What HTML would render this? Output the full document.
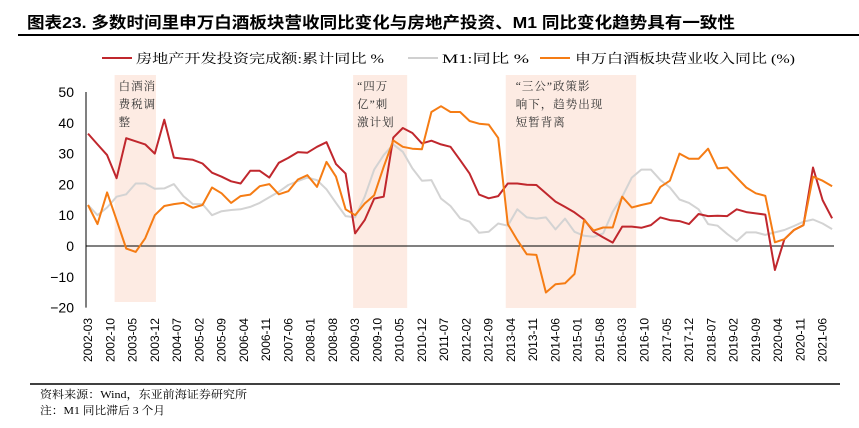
<!DOCTYPE html>
<html><head><meta charset="utf-8"><style>
body{margin:0;background:#fff;width:859px;height:423px;overflow:hidden;font-family:"Liberation Serif","Noto Serif CJK SC",serif}
</style></head><body>
<svg id="c" width="859" height="423" xmlns="http://www.w3.org/2000/svg">
<text x="27" y="28" font-size="16" font-weight="bold" textLength="708" lengthAdjust="spacingAndGlyphs" font-family="Liberation Sans, Noto Sans CJK SC, sans-serif">图表23. 多数时间里申万白酒板块营收同比变化与房地产投资、M1 同比变化趋势具有一致性</text>
<line x1="18" y1="35" x2="859" y2="35" stroke="#000" stroke-width="2"/>
<g font-size="13" font-family="Liberation Serif, Noto Serif CJK SC, serif">
<g><line x1="102" y1="58" x2="132" y2="58" stroke="#c0272d" stroke-width="2"/><text x="136" y="63" textLength="248" lengthAdjust="spacingAndGlyphs">房地产开发投资完成额:累计同比 %</text></g>
<g><line x1="408" y1="58" x2="438" y2="58" stroke="#d0d0d0" stroke-width="2"/><text x="442" y="63" textLength="87" lengthAdjust="spacingAndGlyphs">M1:同比 %</text></g>
<g><line x1="540" y1="58" x2="570" y2="58" stroke="#f57c14" stroke-width="2"/><text x="575" y="63" textLength="220" lengthAdjust="spacingAndGlyphs">申万白酒板块营业收入同比 (%)</text></g>
</g>
<g id="bands"></g>
<g id="axes"></g>
<g id="series"></g>
<line x1="30" y1="384" x2="840" y2="384" stroke="#000" stroke-width="1.5"/>
<text x="40" y="398" font-size="11" textLength="207" lengthAdjust="spacingAndGlyphs">资料来源：Wind，东亚前海证券研究所</text>
<text x="40" y="414" font-size="11" textLength="125" lengthAdjust="spacingAndGlyphs">注：M1 同比滞后 3 个月</text>
</svg>
<script>
const property=[36.5,33,29.5,22,35,34,33,30,41,28.7,28.3,28,26.8,23.8,22.5,21,20.3,24.4,24.4,22.2,27,28.6,30.5,30.3,32.2,33.7,26.6,23.5,4.1,8.4,15.4,16,35.2,38.3,36.7,33.3,34.2,33,32.2,27.9,23.5,16.7,15.5,16.2,20.3,20.3,19.9,19.8,17.1,14.4,12.7,10.9,8.6,4.6,2.8,1.1,6.3,6.3,5.9,6.8,9.3,8.4,8.1,7.1,10.4,9.7,9.8,9.7,11.9,11,10.6,10.2,-7.8,2.2,5.2,6.8,25.5,14.9,9];
const m1=[13.3,10,12.5,16,16.8,20.3,20.3,18.6,18.7,20.1,16.2,13.6,13.6,10,11.3,11.7,11.9,12.7,14,15.8,17.6,19.8,21.1,22.2,21.4,18.4,14,9.7,9.3,16,24.8,29.5,33,30.6,25.2,21.2,21.4,15.4,13,9,7.9,4.3,4.6,7.3,6.6,11.9,9.3,8.9,9.3,5.4,8.9,4.6,3.3,3,4.1,11.1,16,22.2,24.8,24.8,21.4,19,15.1,14,11.9,7.1,6.6,3.9,1.6,4.4,4.4,3.6,4.4,5.2,6.5,7.9,8.6,7.3,5.5];
const baijiu=[13.3,7.1,17.4,8.4,-0.8,-1.9,2.5,10,13,13.6,14,12.4,13.3,19,17.1,14,16.2,16.7,19.4,20.1,16.8,17.8,21.6,23,19.2,27.3,22.5,11.9,10,13.8,16.5,25.7,34.3,32.2,31.6,31.4,43.5,45.4,43.5,43.5,40.6,39.7,39.4,35.1,7.1,1.9,-2.7,-2.9,-15.1,-12.4,-12.1,-9.1,8.4,5,6,6,16,12.5,13.3,14,19.2,21.2,30,28.3,28.3,31.6,25.2,25.5,22.2,19,17.1,16.3,1.2,2.2,5.2,6.8,22.5,21.2,19.4];
const yTicks=[50,40,30,20,10,0,-10,-20];
const xLabels=['2002-03','2002-10','2003-05','2003-12','2004-07','2005-02','2005-09','2006-04','2006-11','2007-06','2008-01','2008-08','2009-03','2009-10','2010-05','2010-12','2011-07','2012-02','2012-09','2013-04','2013-11','2014-06','2015-01','2015-08','2016-03','2016-10','2017-05','2017-12','2018-07','2019-02','2019-09','2020-04','2020-11','2021-06'];
const bands=[{from:'2002-12',to:'2004-01',label:['白酒消','费税调','整'],top:75,bottom:302},{from:'2009-03',to:'2010-08',label:['“四万','亿”刺','激计划'],top:75,bottom:308},{from:'2013-03',to:'2016-08',label:['“三公”政策影','响下，趋势出现','短暂背离'],top:75,bottom:308}];
const NS='http://www.w3.org/2000/svg';
const X0=88,PXM=3.18;
function mIdx(s){const [y,m]=s.split('-').map(Number);return (y-2002)*12+(m-3);}
function xm(s){return X0+mIdx(s)*PXM;}
function xi(i){return X0+i*3*PXM;}
function yv(v){return 246-v*3.08;}
function mk(t,a,p){const e=document.createElementNS(NS,t);for(const k in a)e.setAttribute(k,a[k]);(p||document.getElementById('axes')).appendChild(e);return e;}
const bg=document.getElementById('bands');
bands.forEach((b,k)=>{
 const r=mk('rect',{x:xm(b.from)-2,y:b.top,width:xm(b.to)-xm(b.from),height:b.bottom-b.top,fill:'#fdebe3'},bg);
 
 
 b.label.forEach((l,j)=>{const t=mk('text',{x:xm(b.from)+(k==2?8:2),y:90+j*18,'font-size':11.5,fill:'#333','letter-spacing':1},bg);t.textContent=l;
 
 });
});
const ax=document.getElementById('axes');
const yl=mk('line',{x1:86,y1:yv(50),x2:86,y2:yv(-20),stroke:'#000','stroke-width':1});


const zl=mk('line',{x1:86,y1:yv(0),x2:834,y2:yv(0),stroke:'#000','stroke-width':1});


yTicks.forEach(v=>{const t=mk('text',{x:74,y:yv(v)+5,'text-anchor':'end','font-size':14,'font-family':'Liberation Sans, sans-serif'});t.textContent=v<0?'−'+(-v):v;
 
 });
xLabels.forEach(s=>{const x=xm(s)+4;const t=mk('text',{x:x,y:318,transform:'rotate(-90 '+x+' 318)','text-anchor':'end','font-size':12,'font-family':'Liberation Sans, sans-serif'});t.textContent=s;
 
 });
const sg=document.getElementById('series');
[[m1,'#d3d3d3','m1-line'],[property,'#c0272d','property-investment-line'],[baijiu,'#f57c14','baijiu-revenue-line']].forEach(([d,c,n])=>{
 const p=mk('polyline',{points:d.map((v,i)=>xi(i).toFixed(1)+','+yv(v).toFixed(1)).join(' '),fill:'none',stroke:c,'stroke-width':2,'stroke-linejoin':'round'},sg);
 
 
});
</script>
</body></html>
